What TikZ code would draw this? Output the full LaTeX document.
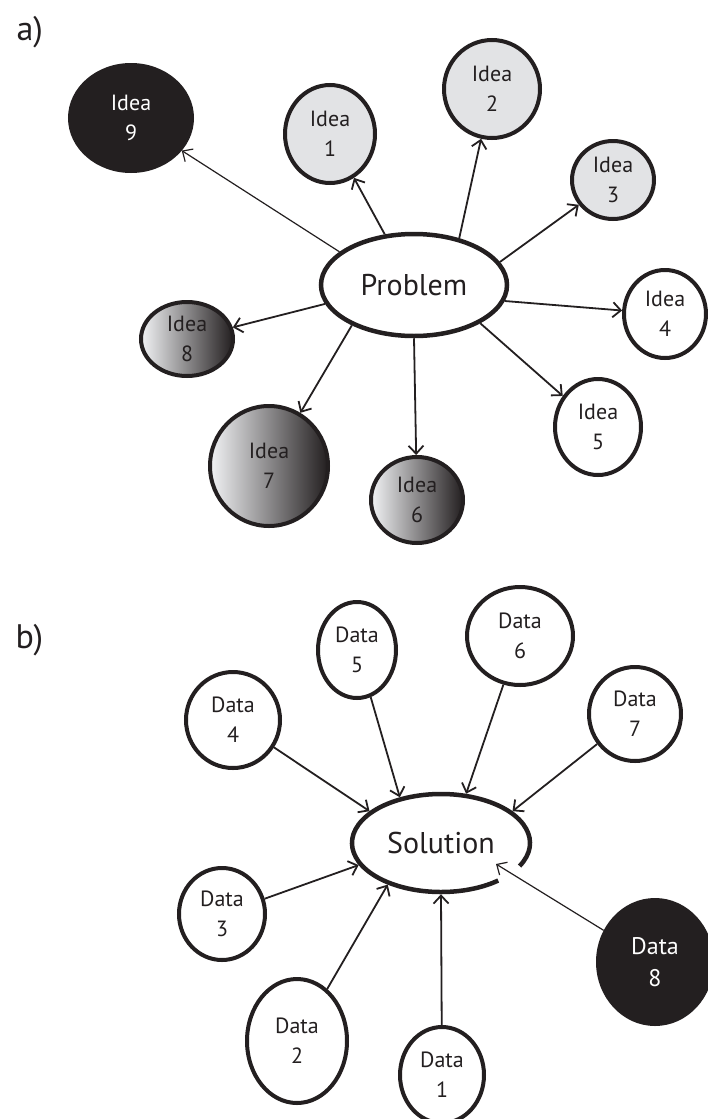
\documentclass[tikz,border=0pt]{standalone}
\usepackage{fontspec}
\setmainfont{PT Sans}
\usetikzlibrary{arrows.meta, shapes.geometric}
\definecolor{ink}{HTML}{231F20}
\definecolor{paleidea}{HTML}{E2E3E5}
\definecolor{fadeleft}{HTML}{F2F3F5}
\tikzset{
  bubble/.style={ellipse, draw=ink, line width=4pt, inner sep=0pt, align=center,
    font=\fontsize{22}{30}\selectfont, text=ink},
  pale/.style={bubble, fill=paleidea},
  faded/.style={bubble, left color=fadeleft, right color=ink},
  dark/.style={bubble, fill=ink, text=white},
  hub/.style={ellipse, draw=ink, line width=4.5pt, inner sep=0pt,
    font=\fontsize{30}{36}\selectfont, text=ink},
  tag/.style={anchor=base west, font=\fontsize{34}{40}\selectfont, text=ink},
  link/.style={-{Straight Barb[length=8pt, width=15pt]}, line width=1.8pt, color=ink},
  thinlink/.style={link, line width=1.2pt}
}

\begin{document}
\begin{tikzpicture}[x=1pt, y=-1pt]
\useasboundingbox (0,0) rectangle (708,1119);
\clip (0,0) rectangle (708,1119);

% a) one problem, many ideas
\node[tag] (tagA) at (13,40) {a)};
\node[hub, minimum width=186pt, minimum height=102pt] (prob) at (414,285) {Problem};
\node[dark, minimum width=122pt, minimum height=106pt] (i9) at (131,118) {Idea\\9};
\node[pale, minimum width=90pt, minimum height=98pt] (i1) at (330,134) {Idea\\1};
\node[pale, minimum width=96pt, minimum height=98pt] (i2) at (492,89) {Idea\\2};
\node[pale, minimum width=82pt, minimum height=78pt] (i3) at (613,180) {Idea\\3};
\node[bubble, minimum width=82pt, minimum height=88pt] (i4) at (665,314) {Idea\\4};
\node[bubble, minimum width=86pt, minimum height=96pt] (i5) at (598,427) {Idea\\5};
\node[faded, minimum width=92pt, minimum height=86pt] (i6) at (417,500) {Idea\\6};
\node[faded, minimum width=118pt, minimum height=120pt] (i7) at (269,466) {Idea\\7};
\node[faded, minimum width=92pt, minimum height=74pt] (i8) at (187,339) {Idea\\8};

\draw[thinlink] (prob.156) -- (i9);
\foreach \n/\a in {1/120, 2/46, 3/15, 4/-10, 5/-30, 6/270, 7/213, 8/192}
  {\draw[link] (prob.\a) -- (i\n);}

% b) many data, one solution
\node[tag] (tagB) at (12,648) {b)};
\node[hub, draw=none, minimum width=178pt, minimum height=98pt] (sol) at (441,843) {Solution};
\draw[line width=4.5pt, ink] (sol.center) ++(-28:89pt and 49pt)
  arc[start angle=-28, end angle=310, x radius=89pt, y radius=49pt];
\coordinate (solTip) at (496,864);
\node[bubble, minimum width=84pt, minimum height=96pt] (d1) at (442,1075) {Data\\1};
\node[bubble, minimum width=100pt, minimum height=124pt] (d2) at (297,1041) {Data\\2};
\node[bubble, minimum width=86pt, minimum height=92pt] (d3) at (222,914) {Data\\3};
\node[bubble, minimum width=94pt, minimum height=96pt] (d4) at (233,720) {Data\\4};
\node[bubble, minimum width=78pt, minimum height=96pt] (d5) at (357,650) {Data\\5};
\node[bubble, minimum width=106pt, minimum height=98pt] (d6) at (520,636) {Data\\6};
\node[bubble, minimum width=92pt, minimum height=94pt] (d7) at (635,714) {Data\\7};
\node[dark, minimum width=114pt, minimum height=124pt, font=\fontsize{24}{32}\selectfont] (d8) at (655,962) {Data\\8};

\foreach \n/\a in {1/270, 2/218, 3/195, 4/156, 5/132, 6/63, 7/24}
  {\draw[link] (d\n) -- (sol.\a);}
\draw[thinlink] (d8) -- (solTip);
\end{tikzpicture}
\end{document}
